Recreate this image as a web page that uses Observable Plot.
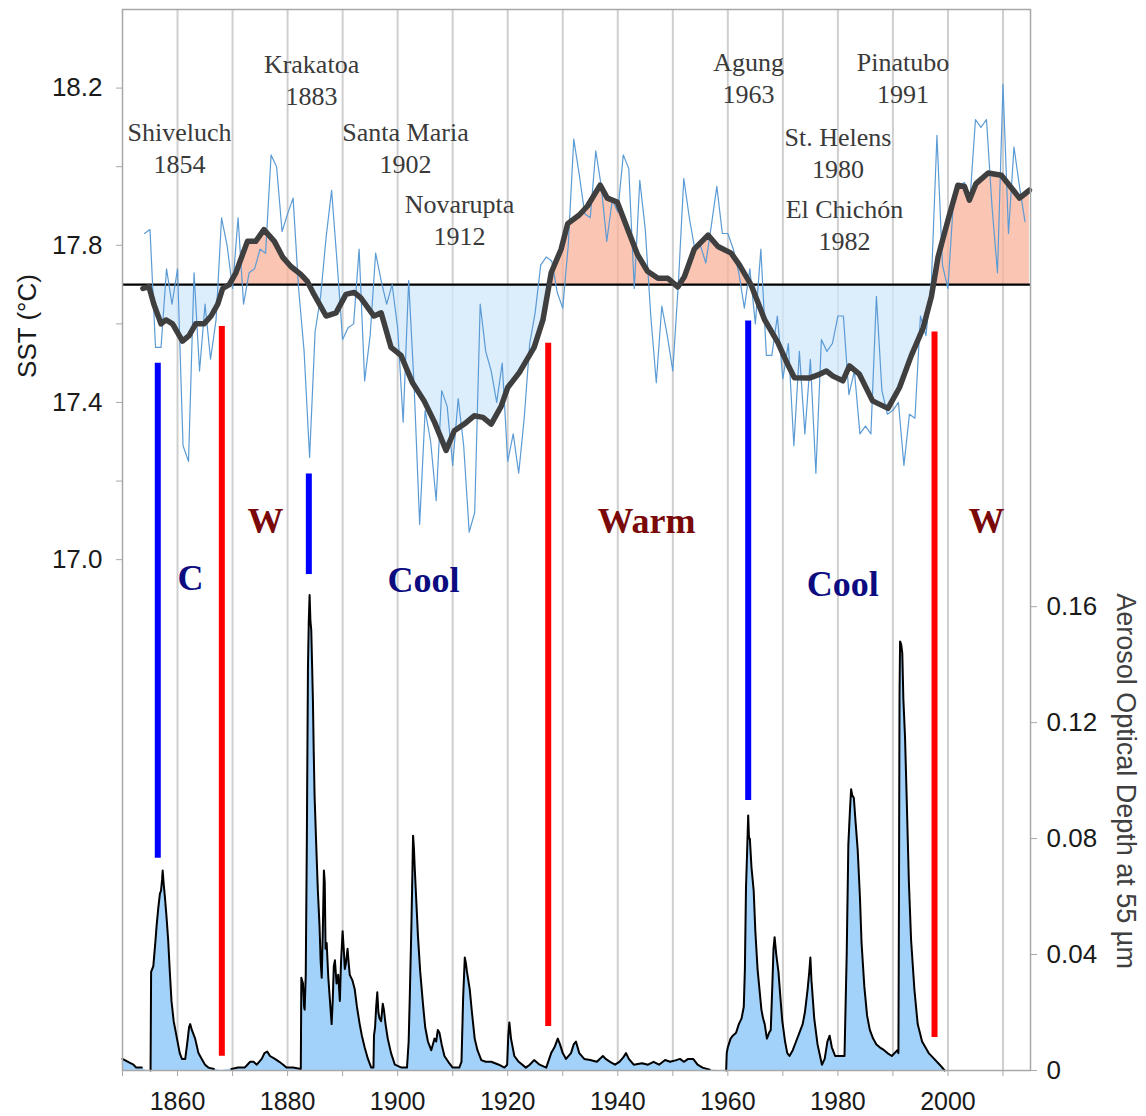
<!DOCTYPE html>
<html><head><meta charset="utf-8">
<script src="https://cdn.jsdelivr.net/npm/d3@7"></script>
<script src="https://cdn.jsdelivr.net/npm/@observablehq/plot@0.6"></script>
<style>
body{margin:0;background:#fff;}
#wrap{position:relative;width:1146px;height:1116px;}
#wrap svg{position:absolute;left:0;top:0;}
</style></head><body><div id="wrap"></div>
<script>
// ---------- data ----------
const sstYears = d3.range(1854, 2015);
const sstAnnual = [
 17.83,17.84,17.54,17.54,17.74,17.65,17.74,17.29,17.25,17.73, // 1854-1863
 17.48,17.65,17.51,17.61,17.87,17.80,17.69,17.87,17.65,17.73, // 1864-1873
 17.74,17.79,17.78,18.03,18.00,17.835,17.88,17.92,17.69,17.53, // 1874-1883
 17.26,17.58,17.67,17.82,17.94,17.755,17.56,17.59,17.60,17.79, // 1884-1893
 17.455,17.57,17.78,17.71,17.65,17.70,17.59,17.35,17.71,17.44, // 1894-1903
 17.09,17.38,17.30,17.15,17.43,17.39,17.24,17.41,17.29,17.07, // 1904-1913
 17.12,17.65,17.53,17.48,17.40,17.50,17.25,17.32,17.22,17.36, // 1914-1923
 17.55,17.63,17.75,17.77,17.76,17.68,17.64,17.80,18.07,17.98, // 1924-1933
 17.88,17.87,18.04,17.95,17.81,17.915,17.885,18.03,17.995,17.69, // 1934-1943
 17.965,17.84,17.62,17.45,17.645,17.57,17.48,17.70,17.97,17.87, // 1944-1953
 17.79,17.80,17.755,17.85,17.95,17.83,17.83,17.79,17.73,17.64, // 1954-1963
 17.74,17.60,17.79,17.52,17.52,17.62,17.46,17.55,17.29,17.53, // 1964-1973
 17.32,17.51,17.22,17.56,17.53,17.55,17.62,17.62,17.42,17.48, // 1974-1983
 17.32,17.34,17.32,17.67,17.43,17.37,17.38,17.40,17.24,17.37, // 1984-1993
 17.36,17.62,17.57,17.71,18.08,17.75,17.69,17.915,17.95,17.96, // 1994-2003
 17.915,18.12,18.10,18.12,17.90,17.73,18.21,17.83,18.05,17.95, // 2004-2013
 17.86 // 2014
];
const smoothYears = [1853.7,1854.8,1855.7,1857.0,1857.9,1859.1,1860.9,1862.1,1863.3,1864.8,1866.1,1867.3,1868.2,1869.4,1870.6,1872.7,1874.2,1875.7,1877.6,1879.1,1880.6,1882.4,1883.6,1884.8,1887.0,1888.8,1890.6,1892.1,1893.3,1895.7,1897.0,1898.8,1900.6,1902.7,1904.8,1906.7,1908.8,1910.3,1912.1,1913.9,1915.5,1917.0,1918.8,1920.0,1922.1,1924.8,1926.4,1927.9,1929.7,1930.9,1933.0,1934.5,1936.8,1938.1,1939.9,1942.1,1943.6,1945.4,1947.3,1949.1,1950.9,1952.1,1953.9,1956.4,1958.2,1960.6,1962.1,1964.2,1966.7,1969.1,1970.6,1972.1,1974.8,1976.4,1977.9,1979.1,1980.9,1982.1,1983.9,1986.3,1989.1,1991.2,1993.3,1995.5,1997.0,1998.2,2000.0,2001.8,2003.0,2003.9,2005.1,2007.3,2009.7,2010.9,2013.0,2014.8];
const smoothValues = [17.69,17.695,17.65,17.60,17.61,17.60,17.556,17.57,17.60,17.60,17.62,17.65,17.69,17.70,17.73,17.81,17.81,17.84,17.81,17.77,17.746,17.726,17.708,17.675,17.62,17.628,17.675,17.68,17.666,17.62,17.628,17.54,17.52,17.45,17.404,17.35,17.278,17.328,17.345,17.366,17.362,17.345,17.39,17.438,17.476,17.54,17.61,17.73,17.79,17.855,17.877,17.90,17.953,17.92,17.91,17.83,17.776,17.734,17.716,17.716,17.694,17.72,17.79,17.826,17.797,17.78,17.75,17.70,17.61,17.552,17.505,17.463,17.462,17.47,17.48,17.467,17.455,17.493,17.472,17.404,17.385,17.438,17.518,17.59,17.67,17.77,17.864,17.953,17.95,17.915,17.957,17.984,17.978,17.957,17.92,17.94];
const sstBaseline = 17.7;

// aerosol optical depth (null = no data, gap in the line)
const aodYears = [1850.0,1851.0,1852.0,1852.5,1853.5,1854.3,
 1855.1,1855.2,1855.6,1856.0,1856.2,1856.5,1856.8,1857.0,1857.2,1857.3,1857.5,1857.7,1858.0,1858.3,1858.6,1858.9,1859.3,1859.9,1860.4,1860.8,1861.4,1861.8,1862.1,1862.3,1862.6,1863.2,1863.8,1864.4,1865.0,1865.6,1866.6,1868.0,
 1869.8,1871.0,1872.2,1872.7,1873.2,1873.8,1874.4,1875.3,1875.8,1876.3,1876.8,1877.7,1878.5,1879.2,1879.8,1881.0,1882.4,
 1882.5,1882.8,1883.0,1883.1,1883.3,1883.5,1883.7,1883.85,1884.0,1884.15,1884.3,1884.45,1884.6,1884.75,1884.9,1885.2,1885.5,1885.8,1886.0,1886.2,1886.4,1886.6,1886.75,1886.9,1887.1,1887.4,1887.7,1888.0,1888.2,1888.4,1888.6,1888.9,1889.2,1889.5,1889.7,1890.0,1890.2,1890.4,1890.6,1890.9,1891.1,1891.3,1891.8,1892.2,1892.6,1893.1,1893.5,1894.0,1894.6,1895.2,1895.6,
 1895.7,1895.9,1896.1,1896.3,1896.5,1896.7,1897.0,1897.3,1897.5,1897.8,1898.2,1898.8,1899.5,1900.7,1901.7,
 1902.0,1902.2,1902.5,1902.7,1902.8,1902.95,1903.1,1903.4,1903.7,1904.1,1904.6,1905.0,1905.5,1906.1,1906.4,1906.7,1907.0,1907.3,1907.6,1908.0,1908.5,1909.2,1910.0,1911.2,
 1911.6,1911.9,1912.2,1912.4,1912.6,1913.1,1913.5,1914.0,1914.5,1915.2,1916.0,1917.0,1918.4,1919.4,1919.9,1920.1,1920.3,1920.6,1921.2,1922.0,1923.3,1924.0,1924.8,1925.8,1927.0,
 1927.9,1928.5,1929.1,1929.5,1930.0,1930.6,1931.5,1932.0,1932.4,1933.0,1933.9,1935.0,1936.2,1937.3,1937.8,1938.6,1939.5,1940.3,1941.0,1941.5,1942.0,1942.9,1944.4,1945.5,1946.5,1947.5,1948.6,1949.5,1950.5,1951.3,1952.0,1952.8,1953.7,1954.5,1955.4,1956.7,1958.2,
 1959.7,1959.8,1960.0,1960.5,1960.9,1961.5,1962.0,1962.5,1962.9,1963.1,1963.3,1963.5,1963.7,1963.85,1964.0,1964.3,1964.7,1965.0,1965.4,1965.8,1966.1,1966.4,1966.7,1967.1,1967.5,1967.8,1968.1,1968.3,1968.5,1968.8,1969.2,1969.6,1969.9,1970.4,1970.8,1971.2,1971.8,1972.4,1973.0,1973.6,1974.0,1974.5,1974.8,1975.0,1975.2,1975.7,1976.3,1977.1,1977.6,1978.1,1978.5,1978.9,1979.5,1980.5,1981.2,
 1981.6,1981.9,1982.2,1982.4,1982.6,1982.9,1983.2,1983.6,1984.0,1984.3,1984.8,1985.3,1985.8,1986.4,1987.0,1987.6,1988.4,1989.0,1989.8,1990.3,1990.8,1991.0,
 1991.1,1991.2,1991.3,1991.5,1991.7,1991.9,1992.2,1992.5,1992.9,1993.3,1993.9,1994.5,1995.3,1996.5,1997.5,1998.5,1999.4];
const aodValues = [0.004,0.003,0.002,0.001,0.001,null,
 0.000,0.034,0.036,0.045,0.050,0.056,0.061,0.062,0.066,0.069,0.064,0.060,0.053,0.045,0.034,0.024,0.017,0.011,0.006,0.004,0.004,0.010,0.015,0.016,0.014,0.011,0.006,0.004,0.002,0.001,0.0005,null,
 0.0005,0.001,0.001,0.002,0.003,0.003,0.002,0.004,0.006,0.0065,0.005,0.004,0.003,0.002,0.001,0.001,0.0005,
 0.032,0.030,0.022,0.021,0.033,0.080,0.139,0.155,0.164,0.155,0.152,0.140,0.128,0.110,0.095,0.078,0.062,0.050,0.038,0.032,0.048,0.069,0.065,0.042,0.044,0.032,0.024,0.016,0.024,0.036,0.038,0.030,0.033,0.024,0.037,0.048,0.042,0.035,0.037,0.042,0.037,0.033,0.031,0.028,0.022,0.016,0.012,0.008,0.004,0.001,0.001,
 0.012,0.015,0.022,0.027,0.020,0.018,0.017,0.023,0.021,0.016,0.011,0.006,0.002,0.001,0.001,
 0.010,0.025,0.050,0.070,0.081,0.077,0.070,0.058,0.046,0.034,0.023,0.015,0.010,0.007,0.009,0.011,0.010,0.014,0.013,0.009,0.005,0.003,0.001,0.001,
 0.003,0.025,0.039,0.037,0.034,0.028,0.020,0.011,0.007,0.0036,0.003,0.003,0.002,0.001,0.002,0.012,0.0166,0.011,0.005,0.003,0.001,0.002,0.0036,0.002,0.001,
 0.006,0.008,0.011,0.009,0.006,0.004,0.006,0.009,0.010,0.006,0.004,0.0036,0.003,0.005,0.004,0.003,0.002,0.003,0.0045,0.006,0.004,0.002,0.0025,0.002,0.003,0.002,0.0036,0.003,0.0035,0.004,0.003,0.004,0.004,0.002,0.001,0.0003,null,
 0.000,0.006,0.008,0.011,0.012,0.013,0.016,0.018,0.022,0.035,0.063,0.075,0.088,0.080,0.080,0.070,0.062,0.048,0.035,0.027,0.021,0.018,0.016,0.011,0.013,0.014,0.030,0.042,0.046,0.040,0.034,0.024,0.017,0.010,0.006,0.005,0.007,0.010,0.013,0.016,0.020,0.028,0.034,0.039,0.031,0.018,0.009,0.002,0.004,0.010,0.012,0.008,0.005,0.005,0.005,
 0.040,0.078,0.090,0.097,0.095,0.094,0.086,0.076,0.060,0.044,0.029,0.019,0.014,0.011,0.009,0.008,0.007,0.006,0.005,0.006,0.007,0.006,
 0.060,0.130,0.148,0.147,0.144,0.128,0.115,0.094,0.065,0.045,0.028,0.016,0.010,0.006,0.004,0.002,0.000];

const gridYears = [1860,1870,1880,1890,1900,1910,1920,1930,1940,1950,1960,1970,1980,1990,2000,2010];
const xTickYears = [1850,1860,1870,1880,1890,1900,1910,1920,1930,1940,1950,1960,1970,1980,1990,2000,2010];
const xLabelYears = [1860,1880,1900,1920,1940,1960,1980,2000];
const sstTickLabels = [17.0,17.4,17.8,18.2];
const sstMinorTicks = [17.2,17.6,18.0];
const aodTicks = [0,0.04,0.08,0.12,0.16];

// volcano annotations: name, eruption year, label anchor (year, SST units)
const volcanoNames = ["Shiveluch","Krakatoa","Santa Maria","Novarupta","Agung","Pinatubo","St. Helens","El Chichón"];
const volcanoYears = [1854,1883,1902,1912,1963,1991,1980,1982];
const volcanoLabelX = [1860.36,1884.35,1901.43,1911.24,1963.76,1991.83,1980.02,1981.2];
const volcanoLabelY = [18.051,18.224,18.051,17.868,18.228,18.228,18.039,17.855];

// regime markers (vertical bars): year, top and bottom (SST units), kind
const markerYears = [1856.41,1868.05,1883.86,1927.36,1963.70,1997.56];
const markerTop = [17.500,17.593,17.218,17.551,17.607,17.579];
const markerBottom = [16.240,15.736,16.962,15.812,16.387,15.784];
const markerKind = ["cool","warm","cool","warm","cool","warm"];

// regime labels
const regimeText = ["C","W","Cool","Warm","Cool","W"];
const regimeKind = ["cool","warm","cool","warm","cool","warm"];
const regimeX = [1862.36,1875.99,1904.7,1945.22,1980.9,2007.0];
const regimeY = [16.952,17.096,16.947,17.096,16.937,17.096];

// ---------- build tables ----------
const annual = sstYears.map((x, i) => ({x, y: sstAnnual[i]}));
const smooth = smoothYears.map((x, i) => ({x, y: smoothValues[i]}));
const aod = aodYears.map((x, i) => ({x, y: aodValues[i]}));
// add exact baseline crossings so the two fills meet cleanly
const fillPts = [];
smooth.forEach((a, i) => {
  if (i > 0) {
    const p = smooth[i - 1];
    if ((p.y - sstBaseline) * (a.y - sstBaseline) < 0) {
      const t = (sstBaseline - p.y) / (a.y - p.y);
      fillPts.push({x: p.x + t * (a.x - p.x), y: sstBaseline});
    }
  }
  fillPts.push(a);
});
const volcanoes = volcanoNames.map((n, i) => ({text: n + "\n" + volcanoYears[i], x: volcanoLabelX[i], y: volcanoLabelY[i]}));
const markers = markerYears.map((x, i) => ({x, top: markerTop[i], bottom: markerBottom[i], kind: markerKind[i]}));
const regimes = regimeText.map((t, i) => ({text: t, x: regimeX[i], y: regimeY[i], kind: regimeKind[i]}));

const W = 1146, H = 1116;
const M = {marginLeft: 122, marginRight: 116, marginTop: 9, marginBottom: 46};
const xDomain = [1850, 2015];
const style = {background: "transparent", fontFamily: "'Liberation Sans', Arial, sans-serif", color: "#222"};
const gridColor = "#cfcfcf", axisColor = "#a8a8a8";

// bottom layer: gridlines + aerosol optical depth with right axis
const aodPlot = Plot.plot({
  width: W, height: H, ...M, style,
  x: {domain: xDomain, axis: null},
  y: {domain: [0, 0.366], axis: null},
  marks: [
    Plot.ruleX(gridYears, {stroke: gridColor, strokeWidth: 2}),
    Plot.areaY(aod, {x: "x", y: "y", fill: "#a2d2fa", curve: "linear"}),
    Plot.line(aod, {x: "x", y: "y", stroke: "#000", strokeWidth: 2, curve: "linear"}),
    Plot.axisY({anchor: "right", ticks: aodTicks, tickFormat: d => d === 0 ? "0" : d.toFixed(2),
      tickSize: 6, tickPadding: 10, fontSize: 26, stroke: axisColor, fill: "#1a1a1a", label: null}),
    Plot.text(["Aerosol Optical Depth at 55 µm"], {text: d => d, frameAnchor: "right", textAnchor: "middle",
      dx: 95, dy: 241, rotate: 90, fontSize: 27, fill: "#404040"})
  ]
});

// top layer: SST
const sstPlot = Plot.plot({
  width: W, height: H, ...M, style,
  x: {domain: xDomain},
  y: {domain: [15.7, 18.4]},
  marks: [
    Plot.areaY(fillPts, {x: "x", y1: () => sstBaseline, y2: d => Math.max(d.y, sstBaseline), fill: "#f8b39a", fillOpacity: 0.75}),
    Plot.areaY(fillPts, {x: "x", y1: () => sstBaseline, y2: d => Math.min(d.y, sstBaseline), fill: "#d0e7fb", fillOpacity: 0.75}),
    Plot.ruleY([sstBaseline], {stroke: "#000", strokeWidth: 2.2}),
    Plot.line(annual, {x: "x", y: "y", stroke: "#5b9bd5", strokeWidth: 1.2}),
    Plot.line(smooth, {x: "x", y: "y", stroke: "#3f3f3f", strokeWidth: 5.5, strokeLinejoin: "round", strokeLinecap: "round"}),
    Plot.ruleX(markers, {x: "x", y1: "bottom", y2: "top", stroke: d => d.kind === "cool" ? "#0000ff" : "#ff0000", strokeWidth: 6}),
    Plot.text(volcanoes, {x: "x", y: "y", text: "text", lineHeight: 1.23, fontSize: 26,
      fontFamily: "'Liberation Serif', 'Times New Roman', serif", fill: "#3a3a3a"}),
    Plot.text(regimes, {x: "x", y: "y", text: "text", fontSize: 36, fontWeight: "bold",
      fontFamily: "'Liberation Serif', 'Times New Roman', serif", fill: d => d.kind === "cool" ? "#0c0c80" : "#7a0a0a"}),
    Plot.frame({stroke: axisColor, strokeWidth: 1.5}),
    Plot.axisY({anchor: "left", ticks: sstTickLabels, tickFormat: d => d.toFixed(1), tickSize: 6, tickPadding: 14,
      fontSize: 26, stroke: axisColor, fill: "#1a1a1a", label: null}),
    Plot.axisY({anchor: "left", ticks: sstMinorTicks, tickFormat: () => "", tickSize: 6, stroke: axisColor, label: null}),
    Plot.axisX({ticks: xTickYears, tickFormat: () => "", tickSize: 6, stroke: axisColor, label: null}),
    Plot.axisX({ticks: xLabelYears, tickFormat: d => String(d), tickSize: 0, tickPadding: 22, fontSize: 25, fill: "#1a1a1a", label: null}),
    Plot.text(["SST (°C)"], {text: d => d, frameAnchor: "left", textAnchor: "middle", dx: -95, dy: -214, rotate: -90, fontSize: 26, fill: "#1a1a1a"})
  ]
});

const wrap = document.getElementById("wrap");
wrap.appendChild(aodPlot);
wrap.appendChild(sstPlot);
</script>
</body></html>
